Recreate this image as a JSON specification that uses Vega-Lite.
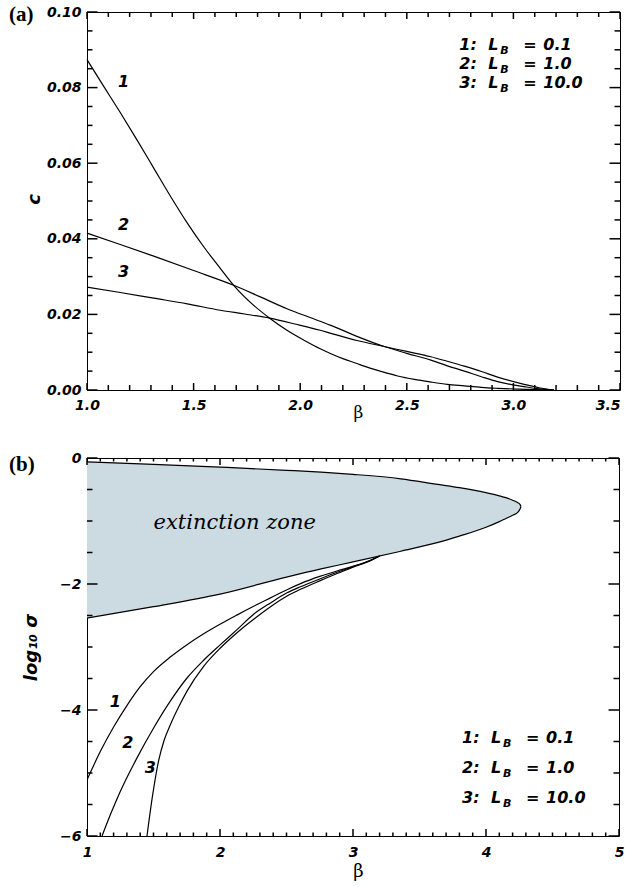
{
  "$schema": "https://vega.github.io/schema/vega-lite/v6.json",
  "autosize": {"type": "pad"},
  "padding": {"left": 8, "top": 3, "right": 6, "bottom": 5},
  "bounds": "flush",
  "spacing": 68,
  "background": "white",
  "config": {
    "view": {"stroke": "black", "strokeWidth": 1},
    "point": {"opacity": 1, "filled": false, "stroke": "black", "strokeWidth": 1.5},
    "axis": {"domain": false, "grid": false, "ticks": false, "zindex": 1, "labelColor": "black", "labelFont": "DejaVu Sans", "labelFontSize": 14, "labelFontStyle": "italic", "labelFontWeight": "bold", "labelOverlap": false, "labelFlush": false, "labelBound": false, "titleColor": "black"}
  },
  "datasets": {
    "xMajA": [{"v": 1}, {"v": 1.5}, {"v": 2}, {"v": 2.5}, {"v": 3}, {"v": 3.5}],
    "xMinA": [{"v": 1.1}, {"v": 1.2}, {"v": 1.3}, {"v": 1.4}, {"v": 1.6}, {"v": 1.7}, {"v": 1.8}, {"v": 1.9}, {"v": 2.1}, {"v": 2.2}, {"v": 2.3}, {"v": 2.4}, {"v": 2.6}, {"v": 2.7}, {"v": 2.8}, {"v": 2.9}, {"v": 3.1}, {"v": 3.2}, {"v": 3.3}, {"v": 3.4}],
    "yMajA": [{"v": 0}, {"v": 0.02}, {"v": 0.04}, {"v": 0.06}, {"v": 0.08}, {"v": 0.1}],
    "yMinA": [{"v": 0.005}, {"v": 0.01}, {"v": 0.015}, {"v": 0.025}, {"v": 0.03}, {"v": 0.035}, {"v": 0.045}, {"v": 0.05}, {"v": 0.055}, {"v": 0.065}, {"v": 0.07}, {"v": 0.075}, {"v": 0.085}, {"v": 0.09}, {"v": 0.095}],
    "xMajB": [{"v": 1}, {"v": 2}, {"v": 3}, {"v": 4}, {"v": 5}],
    "xMinB": [{"v": 1.1}, {"v": 1.2}, {"v": 1.3}, {"v": 1.4}, {"v": 1.5}, {"v": 1.6}, {"v": 1.7}, {"v": 1.8}, {"v": 1.9}, {"v": 2.1}, {"v": 2.2}, {"v": 2.3}, {"v": 2.4}, {"v": 2.5}, {"v": 2.6}, {"v": 2.7}, {"v": 2.8}, {"v": 2.9}, {"v": 3.1}, {"v": 3.2}, {"v": 3.3}, {"v": 3.4}, {"v": 3.5}, {"v": 3.6}, {"v": 3.7}, {"v": 3.8}, {"v": 3.9}, {"v": 4.1}, {"v": 4.2}, {"v": 4.3}, {"v": 4.4}, {"v": 4.5}, {"v": 4.6}, {"v": 4.7}, {"v": 4.8}, {"v": 4.9}],
    "yMajB": [{"v": -6}, {"v": -4}, {"v": -2}, {"v": 0}],
    "yMinB": [{"v": -5.5}, {"v": -5}, {"v": -4.5}, {"v": -3.5}, {"v": -3}, {"v": -2.5}, {"v": -1.5}, {"v": -1}, {"v": -0.5}],
    "curvesA": [
      {"s": "1", "beta": 1.0, "c": 0.0874}, {"s": "1", "beta": 1.08, "c": 0.0802}, {"s": "1", "beta": 1.156, "c": 0.0734}, {"s": "1", "beta": 1.235, "c": 0.0661}, {"s": "1", "beta": 1.313, "c": 0.0587}, {"s": "1", "beta": 1.39, "c": 0.0514}, {"s": "1", "beta": 1.469, "c": 0.0443}, {"s": "1", "beta": 1.55, "c": 0.0377}, {"s": "1", "beta": 1.625, "c": 0.0322}, {"s": "1", "beta": 1.688, "c": 0.0277}, {"s": "1", "beta": 1.782, "c": 0.0224}, {"s": "1", "beta": 1.857, "c": 0.019}, {"s": "1", "beta": 1.938, "c": 0.0158}, {"s": "1", "beta": 2.02, "c": 0.0131}, {"s": "1", "beta": 2.094, "c": 0.0109}, {"s": "1", "beta": 2.144, "c": 0.0096}, {"s": "1", "beta": 2.2, "c": 0.0083}, {"s": "1", "beta": 2.266, "c": 0.007}, {"s": "1", "beta": 2.3, "c": 0.0063}, {"s": "1", "beta": 2.38, "c": 0.0049}, {"s": "1", "beta": 2.457, "c": 0.0037}, {"s": "1", "beta": 2.535, "c": 0.0028}, {"s": "1", "beta": 2.613, "c": 0.0021}, {"s": "1", "beta": 2.69, "c": 0.0015}, {"s": "1", "beta": 2.77, "c": 0.0011}, {"s": "1", "beta": 2.85, "c": 0.0007}, {"s": "1", "beta": 2.926, "c": 0.00045}, {"s": "1", "beta": 3.02, "c": 0.00022}, {"s": "1", "beta": 3.1, "c": 0.0001}, {"s": "1", "beta": 3.19, "c": 0},
      {"s": "2", "beta": 1.0, "c": 0.0415}, {"s": "2", "beta": 1.156, "c": 0.0385}, {"s": "2", "beta": 1.313, "c": 0.0354}, {"s": "2", "beta": 1.5, "c": 0.0316}, {"s": "2", "beta": 1.688, "c": 0.0277}, {"s": "2", "beta": 1.81, "c": 0.0247}, {"s": "2", "beta": 1.938, "c": 0.0215}, {"s": "2", "beta": 2.04, "c": 0.0193}, {"s": "2", "beta": 2.144, "c": 0.0171}, {"s": "2", "beta": 2.266, "c": 0.0142}, {"s": "2", "beta": 2.394, "c": 0.0115}, {"s": "2", "beta": 2.5, "c": 0.0097}, {"s": "2", "beta": 2.613, "c": 0.0079}, {"s": "2", "beta": 2.69, "c": 0.0064}, {"s": "2", "beta": 2.77, "c": 0.005}, {"s": "2", "beta": 2.85, "c": 0.0035}, {"s": "2", "beta": 2.926, "c": 0.0022}, {"s": "2", "beta": 3.05, "c": 0.0009}, {"s": "2", "beta": 3.12, "c": 0.0003}, {"s": "2", "beta": 3.19, "c": 0},
      {"s": "3", "beta": 1.0, "c": 0.0272}, {"s": "3", "beta": 1.156, "c": 0.0258}, {"s": "3", "beta": 1.313, "c": 0.0243}, {"s": "3", "beta": 1.47, "c": 0.0228}, {"s": "3", "beta": 1.625, "c": 0.0211}, {"s": "3", "beta": 1.74, "c": 0.0201}, {"s": "3", "beta": 1.857, "c": 0.019}, {"s": "3", "beta": 1.98, "c": 0.0174}, {"s": "3", "beta": 2.094, "c": 0.0158}, {"s": "3", "beta": 2.144, "c": 0.015}, {"s": "3", "beta": 2.266, "c": 0.0131}, {"s": "3", "beta": 2.394, "c": 0.0115}, {"s": "3", "beta": 2.5, "c": 0.0102}, {"s": "3", "beta": 2.613, "c": 0.0088}, {"s": "3", "beta": 2.69, "c": 0.0076}, {"s": "3", "beta": 2.77, "c": 0.0063}, {"s": "3", "beta": 2.85, "c": 0.0049}, {"s": "3", "beta": 2.926, "c": 0.0034}, {"s": "3", "beta": 3.05, "c": 0.0015}, {"s": "3", "beta": 3.12, "c": 0.0006}, {"s": "3", "beta": 3.19, "c": 0}
    ],
    "labelsA": [
      {"t": "1", "beta": 1.172, "c": 0.0802},
      {"t": "2", "beta": 1.172, "c": 0.0422},
      {"t": "3", "beta": 1.172, "c": 0.0299}
    ],
    "legendA": [
      {"num": "1:", "val": "0.1", "beta": 2.746, "c": 0.0899},
      {"num": "2:", "val": "1.0", "beta": 2.746, "c": 0.0849},
      {"num": "3:", "val": "10.0", "beta": 2.746, "c": 0.08}
    ],
    "tagA": [{"t": "(a)", "beta": 0.6341, "c": 0.0976}],
    "zone": [
      {"beta": 1.0, "upper": -0.06, "lower": -2.54},
      {"beta": 1.5, "upper": -0.1, "lower": -2.36},
      {"beta": 2.0, "upper": -0.145, "lower": -2.16},
      {"beta": 2.5, "upper": -0.195, "lower": -1.89},
      {"beta": 2.76, "upper": -0.225, "lower": -1.76},
      {"beta": 3.0, "upper": -0.26, "lower": -1.65},
      {"beta": 3.36, "upper": -0.33, "lower": -1.48},
      {"beta": 3.64, "upper": -0.42, "lower": -1.34},
      {"beta": 3.8, "upper": -0.47, "lower": -1.24},
      {"beta": 4.0, "upper": -0.55, "lower": -1.1},
      {"beta": 4.1, "upper": -0.6, "lower": -1.01},
      {"beta": 4.15, "upper": -0.63, "lower": -0.96},
      {"beta": 4.2, "upper": -0.67, "lower": -0.91},
      {"beta": 4.24, "upper": -0.71, "lower": -0.86},
      {"beta": 4.255, "upper": -0.735, "lower": -0.815},
      {"beta": 4.263, "upper": -0.77, "lower": -0.77}
    ],
    "curvesB": [
      {"s": "1", "beta": 1.0, "ls": -5.11}, {"s": "1", "beta": 1.1, "ls": -4.66}, {"s": "1", "beta": 1.2, "ls": -4.27}, {"s": "1", "beta": 1.3, "ls": -3.93}, {"s": "1", "beta": 1.4, "ls": -3.63}, {"s": "1", "beta": 1.5, "ls": -3.39}, {"s": "1", "beta": 1.626, "ls": -3.16}, {"s": "1", "beta": 1.752, "ls": -2.963}, {"s": "1", "beta": 1.877, "ls": -2.79}, {"s": "1", "beta": 2.003, "ls": -2.635}, {"s": "1", "beta": 2.13, "ls": -2.49}, {"s": "1", "beta": 2.253, "ls": -2.354}, {"s": "1", "beta": 2.38, "ls": -2.22}, {"s": "1", "beta": 2.504, "ls": -2.09}, {"s": "1", "beta": 2.61, "ls": -1.99}, {"s": "1", "beta": 2.75, "ls": -1.88}, {"s": "1", "beta": 2.885, "ls": -1.79}, {"s": "1", "beta": 3.0, "ls": -1.72}, {"s": "1", "beta": 3.135, "ls": -1.62}, {"s": "1", "beta": 3.2, "ls": -1.556},
      {"s": "2", "beta": 1.113, "ls": -6.0}, {"s": "2", "beta": 1.18, "ls": -5.64}, {"s": "2", "beta": 1.251, "ls": -5.29}, {"s": "2", "beta": 1.376, "ls": -4.76}, {"s": "2", "beta": 1.501, "ls": -4.286}, {"s": "2", "beta": 1.626, "ls": -3.86}, {"s": "2", "beta": 1.752, "ls": -3.492}, {"s": "2", "beta": 1.877, "ls": -3.21}, {"s": "2", "beta": 2.003, "ls": -2.963}, {"s": "2", "beta": 2.13, "ls": -2.72}, {"s": "2", "beta": 2.253, "ls": -2.48}, {"s": "2", "beta": 2.38, "ls": -2.3}, {"s": "2", "beta": 2.504, "ls": -2.14}, {"s": "2", "beta": 2.61, "ls": -2.04}, {"s": "2", "beta": 2.75, "ls": -1.92}, {"s": "2", "beta": 2.885, "ls": -1.81}, {"s": "2", "beta": 3.0, "ls": -1.725}, {"s": "2", "beta": 3.135, "ls": -1.623}, {"s": "2", "beta": 3.2, "ls": -1.556},
      {"s": "3", "beta": 1.451, "ls": -6.0}, {"s": "3", "beta": 1.49, "ls": -5.4}, {"s": "3", "beta": 1.539, "ls": -4.8}, {"s": "3", "beta": 1.58, "ls": -4.48}, {"s": "3", "beta": 1.627, "ls": -4.233}, {"s": "3", "beta": 1.69, "ls": -3.95}, {"s": "3", "beta": 1.752, "ls": -3.7}, {"s": "3", "beta": 1.877, "ls": -3.307}, {"s": "3", "beta": 2.003, "ls": -3.016}, {"s": "3", "beta": 2.13, "ls": -2.77}, {"s": "3", "beta": 2.253, "ls": -2.56}, {"s": "3", "beta": 2.38, "ls": -2.36}, {"s": "3", "beta": 2.504, "ls": -2.19}, {"s": "3", "beta": 2.61, "ls": -2.08}, {"s": "3", "beta": 2.75, "ls": -1.95}, {"s": "3", "beta": 2.885, "ls": -1.83}, {"s": "3", "beta": 3.0, "ls": -1.735}, {"s": "3", "beta": 3.135, "ls": -1.626}, {"s": "3", "beta": 3.2, "ls": -1.556}
    ],
    "labelsB": [
      {"t": "1", "beta": 1.213, "ls": -3.957},
      {"t": "2", "beta": 1.306, "ls": -4.603},
      {"t": "3", "beta": 1.476, "ls": -5.0}
    ],
    "legendB": [
      {"num": "1:", "val": "0.1", "beta": 3.82, "ls": -4.529},
      {"num": "2:", "val": "1.0", "beta": 3.82, "ls": -5.005},
      {"num": "3:", "val": "10.0", "beta": 3.82, "ls": -5.481}
    ],
    "zoneText": [{"t": "extinction zone", "beta": 1.5, "ls": -1.122}],
    "tagB": [{"t": "(b)", "beta": 0.4135, "ls": -0.206}]
  },
  "vconcat": [
    {
      "width": 533,
      "height": 378,
      "resolve": {"axis": {"x": "independent", "y": "independent"}},
      "layer": [
        {
          "data": {"name": "curvesA"},
          "mark": {"type": "line", "color": "black", "strokeWidth": 1.2, "interpolate": "monotone"},
          "encoding": {
            "x": {"field": "beta", "type": "quantitative", "scale": {"domain": [1, 3.5], "nice": false, "zero": false},
              "axis": {"orient": "bottom", "values": [1, 1.5, 2, 2.5, 3, 3.5], "labelPadding": 8, "format": ".1f",
                "labelAlign": {"condition": {"test": "datum.value > 3.4", "value": "right"}, "value": "center"},
                "title": "β", "titleFont": "DejaVu Serif", "titleFontSize": 17, "titleFontWeight": "normal", "titleX": 271, "titleY": 27, "titleBaseline": "alphabetic", "titleAlign": "center"}},
            "y": {"field": "c", "type": "quantitative", "scale": {"domain": [0, 0.1], "nice": false, "zero": false},
              "axis": {"orient": "left", "values": [0, 0.02, 0.04, 0.06, 0.08, 0.1], "labelPadding": 6, "format": ".2f",
                "title": "c", "titleFont": "DejaVu Sans", "titleFontStyle": "italic", "titleFontWeight": "bold", "titleFontSize": 18, "titleAngle": -90, "titleX": -53, "titleY": 187, "titleBaseline": "middle", "titleAlign": "center"}},
            "detail": {"field": "s"}
          }
        },
        {
          "data": {"name": "xMajA"},
          "mark": {"type": "point", "shape": "M0,0L0,-2", "size": 49, "filled": false, "stroke": "black", "strokeWidth": 1.5, "opacity": 1},
          "encoding": {
            "x": {"field": "v", "type": "quantitative", "scale": {"domain": [1, 3.5], "nice": false, "zero": false}, "axis": null},
            "y": {"datum": 0, "type": "quantitative", "scale": {"domain": [0, 0.1], "nice": false, "zero": false}, "axis": null}
          }
        },
        {
          "data": {"name": "xMajA"},
          "mark": {"type": "point", "shape": "M0,0L0,2", "size": 49, "filled": false, "stroke": "black", "strokeWidth": 1.5, "opacity": 1},
          "encoding": {
            "x": {"field": "v", "type": "quantitative", "scale": {"domain": [1, 3.5], "nice": false, "zero": false}, "axis": null},
            "y": {"datum": 0.1, "type": "quantitative", "scale": {"domain": [0, 0.1], "nice": false, "zero": false}, "axis": null}
          }
        },
        {
          "data": {"name": "xMinA"},
          "mark": {"type": "point", "shape": "M0,0L0,-2", "size": 25, "filled": false, "stroke": "black", "strokeWidth": 1.5, "opacity": 1},
          "encoding": {
            "x": {"field": "v", "type": "quantitative", "scale": {"domain": [1, 3.5], "nice": false, "zero": false}, "axis": null},
            "y": {"datum": 0, "type": "quantitative", "scale": {"domain": [0, 0.1], "nice": false, "zero": false}, "axis": null}
          }
        },
        {
          "data": {"name": "xMinA"},
          "mark": {"type": "point", "shape": "M0,0L0,2", "size": 25, "filled": false, "stroke": "black", "strokeWidth": 1.5, "opacity": 1},
          "encoding": {
            "x": {"field": "v", "type": "quantitative", "scale": {"domain": [1, 3.5], "nice": false, "zero": false}, "axis": null},
            "y": {"datum": 0.1, "type": "quantitative", "scale": {"domain": [0, 0.1], "nice": false, "zero": false}, "axis": null}
          }
        },
        {
          "data": {"name": "yMajA"},
          "mark": {"type": "point", "shape": "M0,0L2,0", "size": 110, "filled": false, "stroke": "black", "strokeWidth": 1.5, "opacity": 1},
          "encoding": {
            "x": {"datum": 1, "type": "quantitative", "scale": {"domain": [1, 3.5], "nice": false, "zero": false}, "axis": null},
            "y": {"field": "v", "type": "quantitative", "scale": {"domain": [0, 0.1], "nice": false, "zero": false}, "axis": null}
          }
        },
        {
          "data": {"name": "yMajA"},
          "mark": {"type": "point", "shape": "M0,0L-2,0", "size": 110, "filled": false, "stroke": "black", "strokeWidth": 1.5, "opacity": 1},
          "encoding": {
            "x": {"datum": 3.5, "type": "quantitative", "scale": {"domain": [1, 3.5], "nice": false, "zero": false}, "axis": null},
            "y": {"field": "v", "type": "quantitative", "scale": {"domain": [0, 0.1], "nice": false, "zero": false}, "axis": null}
          }
        },
        {
          "data": {"name": "yMinA"},
          "mark": {"type": "point", "shape": "M0,0L2,0", "size": 30, "filled": false, "stroke": "black", "strokeWidth": 1.5, "opacity": 1},
          "encoding": {
            "x": {"datum": 1, "type": "quantitative", "scale": {"domain": [1, 3.5], "nice": false, "zero": false}, "axis": null},
            "y": {"field": "v", "type": "quantitative", "scale": {"domain": [0, 0.1], "nice": false, "zero": false}, "axis": null}
          }
        },
        {
          "data": {"name": "yMinA"},
          "mark": {"type": "point", "shape": "M0,0L-2,0", "size": 30, "filled": false, "stroke": "black", "strokeWidth": 1.5, "opacity": 1},
          "encoding": {
            "x": {"datum": 3.5, "type": "quantitative", "scale": {"domain": [1, 3.5], "nice": false, "zero": false}, "axis": null},
            "y": {"field": "v", "type": "quantitative", "scale": {"domain": [0, 0.1], "nice": false, "zero": false}, "axis": null}
          }
        },
        {
          "data": {"name": "labelsA"},
          "mark": {"type": "text", "align": "center", "baseline": "alphabetic", "font": "DejaVu Sans", "fontStyle": "italic", "fontWeight": "bold", "fontSize": 16, "color": "black"},
          "encoding": {
            "x": {"field": "beta", "type": "quantitative", "scale": {"domain": [1, 3.5], "nice": false, "zero": false}, "axis": null},
            "y": {"field": "c", "type": "quantitative", "scale": {"domain": [0, 0.1], "nice": false, "zero": false}, "axis": null},
            "text": {"field": "t"}
          }
        },
        {
          "data": {"name": "legendA"},
          "mark": {"type": "text", "align": "left", "baseline": "alphabetic", "font": "DejaVu Sans", "fontStyle": "italic", "fontWeight": "bold", "fontSize": 16, "color": "black", "dx": 0},
          "encoding": {
            "x": {"field": "beta", "type": "quantitative", "scale": {"domain": [1, 3.5], "nice": false, "zero": false}, "axis": null},
            "y": {"field": "c", "type": "quantitative", "scale": {"domain": [0, 0.1], "nice": false, "zero": false}, "axis": null},
            "text": {"field": "num"}
          }
        },
        {
          "data": {"name": "legendA"},
          "mark": {"type": "text", "align": "left", "baseline": "alphabetic", "font": "DejaVu Sans", "fontStyle": "italic", "fontWeight": "bold", "fontSize": 16, "color": "black", "dx": 29},
          "encoding": {
            "x": {"field": "beta", "type": "quantitative", "scale": {"domain": [1, 3.5], "nice": false, "zero": false}, "axis": null},
            "y": {"field": "c", "type": "quantitative", "scale": {"domain": [0, 0.1], "nice": false, "zero": false}, "axis": null},
            "text": {"value": "L"}
          }
        },
        {
          "data": {"name": "legendA"},
          "mark": {"type": "text", "align": "left", "baseline": "alphabetic", "font": "DejaVu Sans", "fontStyle": "italic", "fontWeight": "bold", "fontSize": 11, "color": "black", "dx": 41, "dy": 4},
          "encoding": {
            "x": {"field": "beta", "type": "quantitative", "scale": {"domain": [1, 3.5], "nice": false, "zero": false}, "axis": null},
            "y": {"field": "c", "type": "quantitative", "scale": {"domain": [0, 0.1], "nice": false, "zero": false}, "axis": null},
            "text": {"value": "B"}
          }
        },
        {
          "data": {"name": "legendA"},
          "mark": {"type": "text", "align": "left", "baseline": "alphabetic", "font": "DejaVu Sans", "fontStyle": "italic", "fontWeight": "bold", "fontSize": 16, "color": "black", "dx": 64},
          "encoding": {
            "x": {"field": "beta", "type": "quantitative", "scale": {"domain": [1, 3.5], "nice": false, "zero": false}, "axis": null},
            "y": {"field": "c", "type": "quantitative", "scale": {"domain": [0, 0.1], "nice": false, "zero": false}, "axis": null},
            "text": {"value": "="}
          }
        },
        {
          "data": {"name": "legendA"},
          "mark": {"type": "text", "align": "left", "baseline": "alphabetic", "font": "DejaVu Sans", "fontStyle": "italic", "fontWeight": "bold", "fontSize": 16, "color": "black", "dx": 84},
          "encoding": {
            "x": {"field": "beta", "type": "quantitative", "scale": {"domain": [1, 3.5], "nice": false, "zero": false}, "axis": null},
            "y": {"field": "c", "type": "quantitative", "scale": {"domain": [0, 0.1], "nice": false, "zero": false}, "axis": null},
            "text": {"field": "val"}
          }
        },
        {
          "data": {"name": "tagA"},
          "mark": {"type": "text", "align": "left", "baseline": "alphabetic", "font": "Liberation Serif", "fontWeight": "bold", "fontSize": 21, "color": "black"},
          "encoding": {
            "x": {"field": "beta", "type": "quantitative", "scale": {"domain": [1, 3.5], "nice": false, "zero": false}, "axis": null},
            "y": {"field": "c", "type": "quantitative", "scale": {"domain": [0, 0.1], "nice": false, "zero": false}, "axis": null},
            "text": {"field": "t"}
          }
        }
      ]
    },
    {
      "width": 532,
      "height": 378,
      "resolve": {"axis": {"x": "independent", "y": "independent"}},
      "layer": [
        {
          "data": {"name": "zone"},
          "mark": {"type": "area", "color": "#ccdae2", "opacity": 1, "interpolate": "monotone"},
          "encoding": {
            "x": {"field": "beta", "type": "quantitative", "scale": {"domain": [1, 5], "nice": false, "zero": false},
              "axis": {"orient": "bottom", "values": [1, 2, 3, 4, 5], "labelPadding": 9, "format": "d",
                "title": "β", "titleFont": "DejaVu Serif", "titleFontSize": 18, "titleFontWeight": "normal", "titleX": 271, "titleY": 40, "titleBaseline": "alphabetic", "titleAlign": "center"}},
            "y": {"field": "upper", "type": "quantitative", "scale": {"domain": [-6, 0], "nice": false, "zero": false},
              "axis": {"orient": "left", "values": [-6, -4, -2, 0], "labelPadding": 6, "format": "d",
                "title": "log₁₀  σ", "titleFont": "DejaVu Sans", "titleFontStyle": "italic", "titleFontWeight": "bold", "titleFontSize": 18, "titleAngle": -90, "titleX": -56, "titleY": 189, "titleBaseline": "middle", "titleAlign": "center"}},
            "y2": {"field": "lower"}
          }
        },
        {
          "data": {"name": "zone"},
          "mark": {"type": "line", "color": "black", "strokeWidth": 1.2, "interpolate": "monotone"},
          "encoding": {
            "x": {"field": "beta", "type": "quantitative", "scale": {"domain": [1, 5], "nice": false, "zero": false}, "axis": null},
            "y": {"field": "upper", "type": "quantitative", "scale": {"domain": [-6, 0], "nice": false, "zero": false}, "axis": null}
          }
        },
        {
          "data": {"name": "zone"},
          "mark": {"type": "line", "color": "black", "strokeWidth": 1.2, "interpolate": "monotone"},
          "encoding": {
            "x": {"field": "beta", "type": "quantitative", "scale": {"domain": [1, 5], "nice": false, "zero": false}, "axis": null},
            "y": {"field": "lower", "type": "quantitative", "scale": {"domain": [-6, 0], "nice": false, "zero": false}, "axis": null}
          }
        },
        {
          "data": {"name": "curvesB"},
          "mark": {"type": "line", "color": "black", "strokeWidth": 1.2, "clip": true, "interpolate": "monotone"},
          "encoding": {
            "x": {"field": "beta", "type": "quantitative", "scale": {"domain": [1, 5], "nice": false, "zero": false}, "axis": null},
            "y": {"field": "ls", "type": "quantitative", "scale": {"domain": [-6, 0], "nice": false, "zero": false}, "axis": null},
            "detail": {"field": "s"}
          }
        },
        {
          "data": {"name": "xMajB"},
          "mark": {"type": "point", "shape": "M0,0L0,-2", "size": 49, "filled": false, "stroke": "black", "strokeWidth": 1.5, "opacity": 1},
          "encoding": {
            "x": {"field": "v", "type": "quantitative", "scale": {"domain": [1, 5], "nice": false, "zero": false}, "axis": null},
            "y": {"datum": -6, "type": "quantitative", "scale": {"domain": [-6, 0], "nice": false, "zero": false}, "axis": null}
          }
        },
        {
          "data": {"name": "xMajB"},
          "mark": {"type": "point", "shape": "M0,0L0,2", "size": 49, "filled": false, "stroke": "black", "strokeWidth": 1.5, "opacity": 1},
          "encoding": {
            "x": {"field": "v", "type": "quantitative", "scale": {"domain": [1, 5], "nice": false, "zero": false}, "axis": null},
            "y": {"datum": 0, "type": "quantitative", "scale": {"domain": [-6, 0], "nice": false, "zero": false}, "axis": null}
          }
        },
        {
          "data": {"name": "xMinB"},
          "mark": {"type": "point", "shape": "M0,0L0,-2", "size": 12.25, "filled": false, "stroke": "black", "strokeWidth": 1.5, "opacity": 1},
          "encoding": {
            "x": {"field": "v", "type": "quantitative", "scale": {"domain": [1, 5], "nice": false, "zero": false}, "axis": null},
            "y": {"datum": -6, "type": "quantitative", "scale": {"domain": [-6, 0], "nice": false, "zero": false}, "axis": null}
          }
        },
        {
          "data": {"name": "xMinB"},
          "mark": {"type": "point", "shape": "M0,0L0,2", "size": 12.25, "filled": false, "stroke": "black", "strokeWidth": 1.5, "opacity": 1},
          "encoding": {
            "x": {"field": "v", "type": "quantitative", "scale": {"domain": [1, 5], "nice": false, "zero": false}, "axis": null},
            "y": {"datum": 0, "type": "quantitative", "scale": {"domain": [-6, 0], "nice": false, "zero": false}, "axis": null}
          }
        },
        {
          "data": {"name": "yMajB"},
          "mark": {"type": "point", "shape": "M0,0L2,0", "size": 110, "filled": false, "stroke": "black", "strokeWidth": 1.5, "opacity": 1},
          "encoding": {
            "x": {"datum": 1, "type": "quantitative", "scale": {"domain": [1, 5], "nice": false, "zero": false}, "axis": null},
            "y": {"field": "v", "type": "quantitative", "scale": {"domain": [-6, 0], "nice": false, "zero": false}, "axis": null}
          }
        },
        {
          "data": {"name": "yMajB"},
          "mark": {"type": "point", "shape": "M0,0L-2,0", "size": 110, "filled": false, "stroke": "black", "strokeWidth": 1.5, "opacity": 1},
          "encoding": {
            "x": {"datum": 5, "type": "quantitative", "scale": {"domain": [1, 5], "nice": false, "zero": false}, "axis": null},
            "y": {"field": "v", "type": "quantitative", "scale": {"domain": [-6, 0], "nice": false, "zero": false}, "axis": null}
          }
        },
        {
          "data": {"name": "yMinB"},
          "mark": {"type": "point", "shape": "M0,0L2,0", "size": 30, "filled": false, "stroke": "black", "strokeWidth": 1.5, "opacity": 1},
          "encoding": {
            "x": {"datum": 1, "type": "quantitative", "scale": {"domain": [1, 5], "nice": false, "zero": false}, "axis": null},
            "y": {"field": "v", "type": "quantitative", "scale": {"domain": [-6, 0], "nice": false, "zero": false}, "axis": null}
          }
        },
        {
          "data": {"name": "yMinB"},
          "mark": {"type": "point", "shape": "M0,0L-2,0", "size": 30, "filled": false, "stroke": "black", "strokeWidth": 1.5, "opacity": 1},
          "encoding": {
            "x": {"datum": 5, "type": "quantitative", "scale": {"domain": [1, 5], "nice": false, "zero": false}, "axis": null},
            "y": {"field": "v", "type": "quantitative", "scale": {"domain": [-6, 0], "nice": false, "zero": false}, "axis": null}
          }
        },
        {
          "data": {"name": "labelsB"},
          "mark": {"type": "text", "align": "center", "baseline": "alphabetic", "font": "DejaVu Sans", "fontStyle": "italic", "fontWeight": "bold", "fontSize": 16, "color": "black"},
          "encoding": {
            "x": {"field": "beta", "type": "quantitative", "scale": {"domain": [1, 5], "nice": false, "zero": false}, "axis": null},
            "y": {"field": "ls", "type": "quantitative", "scale": {"domain": [-6, 0], "nice": false, "zero": false}, "axis": null},
            "text": {"field": "t"}
          }
        },
        {
          "data": {"name": "zoneText"},
          "mark": {"type": "text", "align": "left", "baseline": "alphabetic", "font": "DejaVu Serif", "fontStyle": "italic", "fontSize": 21, "color": "black"},
          "encoding": {
            "x": {"field": "beta", "type": "quantitative", "scale": {"domain": [1, 5], "nice": false, "zero": false}, "axis": null},
            "y": {"field": "ls", "type": "quantitative", "scale": {"domain": [-6, 0], "nice": false, "zero": false}, "axis": null},
            "text": {"field": "t"}
          }
        },
        {
          "data": {"name": "legendB"},
          "mark": {"type": "text", "align": "left", "baseline": "alphabetic", "font": "DejaVu Sans", "fontStyle": "italic", "fontWeight": "bold", "fontSize": 16, "color": "black", "dx": 0},
          "encoding": {
            "x": {"field": "beta", "type": "quantitative", "scale": {"domain": [1, 5], "nice": false, "zero": false}, "axis": null},
            "y": {"field": "ls", "type": "quantitative", "scale": {"domain": [-6, 0], "nice": false, "zero": false}, "axis": null},
            "text": {"field": "num"}
          }
        },
        {
          "data": {"name": "legendB"},
          "mark": {"type": "text", "align": "left", "baseline": "alphabetic", "font": "DejaVu Sans", "fontStyle": "italic", "fontWeight": "bold", "fontSize": 16, "color": "black", "dx": 29},
          "encoding": {
            "x": {"field": "beta", "type": "quantitative", "scale": {"domain": [1, 5], "nice": false, "zero": false}, "axis": null},
            "y": {"field": "ls", "type": "quantitative", "scale": {"domain": [-6, 0], "nice": false, "zero": false}, "axis": null},
            "text": {"value": "L"}
          }
        },
        {
          "data": {"name": "legendB"},
          "mark": {"type": "text", "align": "left", "baseline": "alphabetic", "font": "DejaVu Sans", "fontStyle": "italic", "fontWeight": "bold", "fontSize": 11, "color": "black", "dx": 41, "dy": 4},
          "encoding": {
            "x": {"field": "beta", "type": "quantitative", "scale": {"domain": [1, 5], "nice": false, "zero": false}, "axis": null},
            "y": {"field": "ls", "type": "quantitative", "scale": {"domain": [-6, 0], "nice": false, "zero": false}, "axis": null},
            "text": {"value": "B"}
          }
        },
        {
          "data": {"name": "legendB"},
          "mark": {"type": "text", "align": "left", "baseline": "alphabetic", "font": "DejaVu Sans", "fontStyle": "italic", "fontWeight": "bold", "fontSize": 16, "color": "black", "dx": 64},
          "encoding": {
            "x": {"field": "beta", "type": "quantitative", "scale": {"domain": [1, 5], "nice": false, "zero": false}, "axis": null},
            "y": {"field": "ls", "type": "quantitative", "scale": {"domain": [-6, 0], "nice": false, "zero": false}, "axis": null},
            "text": {"value": "="}
          }
        },
        {
          "data": {"name": "legendB"},
          "mark": {"type": "text", "align": "left", "baseline": "alphabetic", "font": "DejaVu Sans", "fontStyle": "italic", "fontWeight": "bold", "fontSize": 16, "color": "black", "dx": 84},
          "encoding": {
            "x": {"field": "beta", "type": "quantitative", "scale": {"domain": [1, 5], "nice": false, "zero": false}, "axis": null},
            "y": {"field": "ls", "type": "quantitative", "scale": {"domain": [-6, 0], "nice": false, "zero": false}, "axis": null},
            "text": {"field": "val"}
          }
        },
        {
          "data": {"name": "tagB"},
          "mark": {"type": "text", "align": "left", "baseline": "alphabetic", "font": "Liberation Serif", "fontWeight": "bold", "fontSize": 21, "color": "black"},
          "encoding": {
            "x": {"field": "beta", "type": "quantitative", "scale": {"domain": [1, 5], "nice": false, "zero": false}, "axis": null},
            "y": {"field": "ls", "type": "quantitative", "scale": {"domain": [-6, 0], "nice": false, "zero": false}, "axis": null},
            "text": {"field": "t"}
          }
        }
      ]
    }
  ]
}
